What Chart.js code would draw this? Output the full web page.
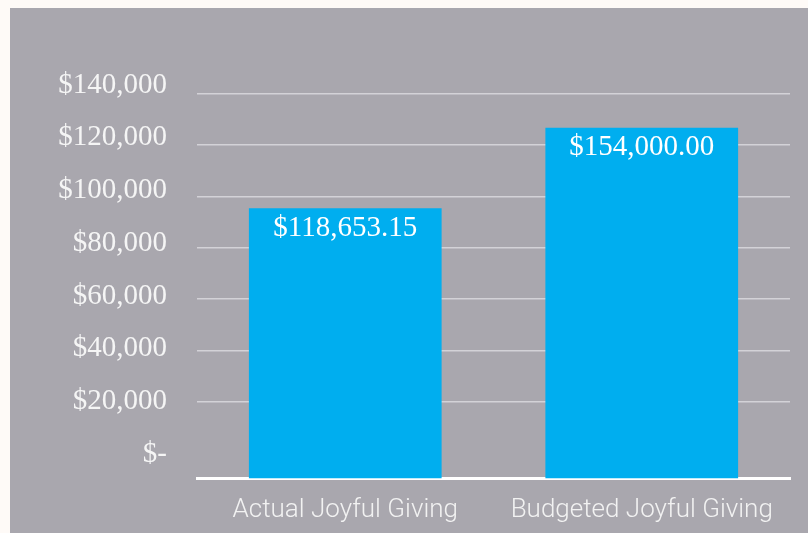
<!DOCTYPE html>
<html>
<head>
<meta charset="utf-8">
<script src="https://cdn.jsdelivr.net/npm/chart.js@4/dist/chart.umd.min.js"></script>
<style>
  html, body { margin: 0; padding: 0; background: #fefaf7; }
  #wrap { position: absolute; left: 10px; top: 8px; width: 798px; height: 525px; background: #a9a7ae; }
</style>
</head>
<body>
<div id="wrap"><canvas id="chart"></canvas></div>
<script>
// données
const categories = ['Actual Joyful Giving', 'Budgeted Joyful Giving'];
const values = [118653.15, 154000];
const yTickValues = [0, 20000, 40000, 60000, 80000, 100000, 120000, 140000];
const yTickLabels = ['$-', '$20,000', '$40,000', '$60,000', '$80,000', '$100,000', '$120,000', '$140,000'];

const barLabels = values.map(v => '$' + v.toLocaleString('en-US', { minimumFractionDigits: 2, maximumFractionDigits: 2 }));

// étiquettes blanches en haut des barres
const barLabelPlugin = {
  id: 'barLabels',
  afterDatasetsDraw(chart) {
    const ctx = chart.ctx;
    chart.getDatasetMeta(0).data.forEach((bar, i) => {
      ctx.save();
      ctx.fillStyle = '#ffffff';
      ctx.font = '29px "Liberation Serif"';
      ctx.textAlign = 'center';
      ctx.textBaseline = 'middle';
      ctx.fillText(barLabels[i], bar.x, bar.y + 20);
      ctx.restore();
    });
  }
};

const setTicks = axis => { axis.ticks = yTickValues.map(v => ({ value: v })); };

new Chart(document.getElementById('chart'), {
  type: 'bar',
  data: {
    labels: categories,
    datasets: [{
      data: values,
      backgroundColor: '#00aeef',
      borderWidth: 0,
      barPercentage: 0.65,
      categoryPercentage: 1,
      yAxisID: 'yBar'
    }]
  },
  options: {
    responsive: true,
    maintainAspectRatio: false,
    animation: false,
    layout: { padding: { top: 52, right: 18, bottom: 0, left: 0 } },
    plugins: {
      legend: { display: false },
      tooltip: { enabled: false }
    },
    scales: {
      x: {
        z: 1,
        grid: { display: false },
        border: { display: true, color: '#ffffff', width: 3 },
        ticks: {
          color: '#f2f2f2',
          font: { family: 'Roboto', weight: 300, size: 26 },
          padding: 8,
          maxRotation: 0
        },
        afterFit: axis => { axis.height = 54.5; }
      },
      yBar: {
        display: false,
        min: 0,
        max: 183700
      },
      yGrid: {
        position: 'left',
        min: -9942,
        max: 153216,
        afterBuildTicks: setTicks,
        grid: {
          color: c => (c.tick && c.tick.value === 0) ? 'rgba(0,0,0,0)' : '#d3d2d7',
          lineWidth: 1.5,
          drawTicks: false
        },
        border: { display: false },
        ticks: { display: false },
        afterFit: axis => { axis.width = 0; }
      },
      yLab: {
        position: 'left',
        min: -9298,
        max: 149526,
        afterBuildTicks: setTicks,
        grid: { display: false, drawTicks: false },
        border: { display: false },
        ticks: {
          color: '#f5f5f5',
          font: { family: 'Liberation Serif', size: 29 },
          padding: 30,
          autoSkip: false,
          callback: (value) => yTickLabels[yTickValues.indexOf(value)]
        },
        afterFit: axis => { axis.width = 187; }
      }
    }
  },
  plugins: [barLabelPlugin]
});
</script>
</body>
</html>
